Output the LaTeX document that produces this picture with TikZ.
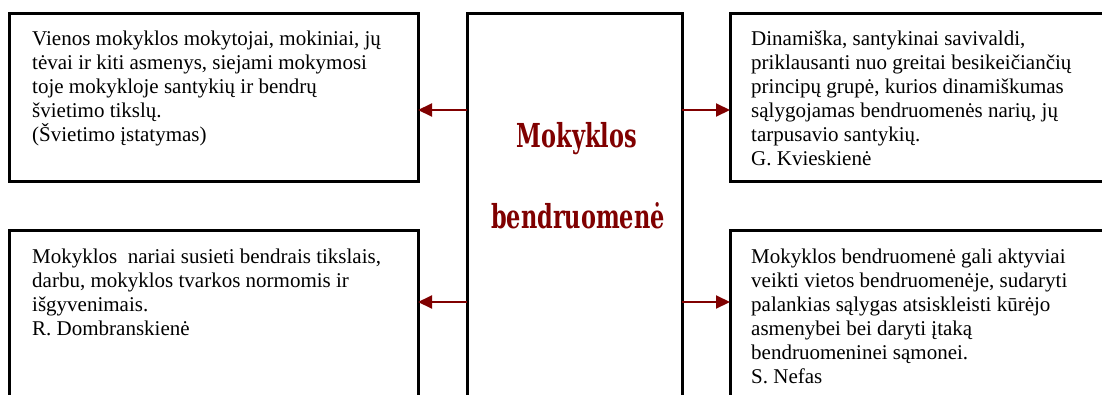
\documentclass[tikz,border=0pt]{standalone}
\usepackage{fontspec}
\setmainfont{Liberation Serif}
\newfontfamily\ctrfont[FakeStretch=0.68]{DejaVu Serif}
\usetikzlibrary{arrows.meta}
\definecolor{ctrred}{RGB}{128,0,0}
\tikzset{
  box/.style={draw=black, line width=3pt, inner sep=0pt, outer sep=0pt},
  txt/.style={anchor=north west, inner sep=0pt, align=left, font=\fontsize{21}{24}\selectfont},
  arr/.style={draw=ctrred, line width=2pt, -{Triangle[length=14pt,width=13pt]}},
  ctrtxt/.style={text=ctrred, inner sep=0pt, font=\ctrfont\bfseries\fontsize{33}{33}\selectfont}
}
\begin{document}
\begin{tikzpicture}[x=1pt,y=-1pt]
\useasboundingbox (0,0) rectangle (1102,394);
\clip (0,0) rectangle (1102,394);
% boxes
\node[box, minimum width=409pt, minimum height=168pt] (tl) at (213.5,97) {};
\node[box, minimum width=409pt, minimum height=190pt] (bl) at (213.5,325) {};
\node[box, minimum width=215pt, minimum height=407pt] (ctr) at (574.5,216.5) {};
\node[box, minimum width=390pt, minimum height=168pt] (tr) at (925,97) {};
\node[box, minimum width=390pt, minimum height=190pt] (br) at (925,325) {};
% texts
\node[txt] (tltext) at (32,31) {Vienos mokyklos mokytojai, mokiniai, jų\\tėvai ir kiti asmenys, siejami mokymosi\\toje mokykloje santykių ir bendrų\\švietimo tikslų.\\(Švietimo įstatymas)};
\node[txt] (trtext) at (751,31) {Dinamiška, santykinai savivaldi,\\priklausanti nuo greitai besikeičiančių\\principų grupė, kurios dinamiškumas\\sąlygojamas bendruomenės narių, jų\\tarpusavio santykių.\\G. Kvieskienė};
\node[txt] (bltext) at (32,249) {Mokyklos\ \ nariai susieti bendrais tikslais,\\darbu, mokyklos tvarkos normomis ir\\išgyvenimais.\\R. Dombranskienė};
\node[txt] (brtext) at (751,249) {Mokyklos bendruomenė gali aktyviai\\veikti vietos bendruomenėje, sudaryti\\palankias sąlygas atsiskleisti kūrėjo\\asmenybei bei daryti įtaką\\bendruomeninei sąmonei.\\S. Nefas};
% centre title
\node[ctrtxt, anchor=base] (t1) at (577,147) {Mokyklos};
\node[ctrtxt, anchor=base] (t2) at (578,228) {bendruomenė};
% arrows
\coordinate (ya) at (0,110);
\coordinate (yb) at (0,302);
\draw[arr] (ctr.west |- ya) -- (tl.east |- ya);
\draw[arr] (ctr.east |- ya) -- (tr.west |- ya);
\draw[arr] (ctr.west |- yb) -- (bl.east |- yb);
\draw[arr] (ctr.east |- yb) -- (br.west |- yb);
\end{tikzpicture}
\end{document}
